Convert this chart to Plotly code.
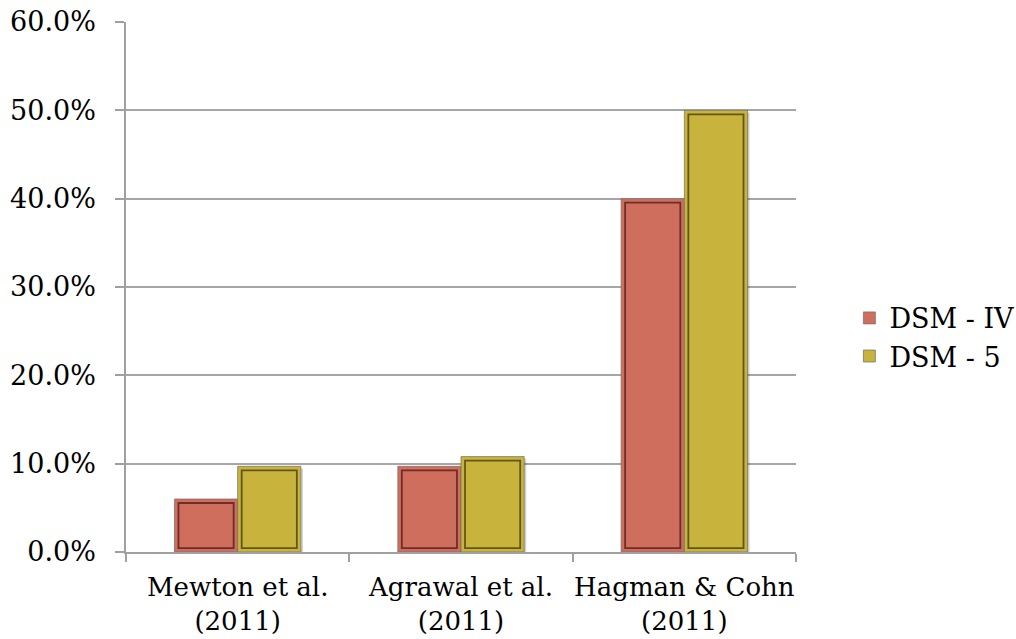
import plotly.graph_objects as go

# Study labels and prevalence values (%)
studies = ["Mewton et al.<br>(2011)", "Agrawal et al.<br>(2011)", "Hagman & Cohn<br>(2011)"]
dsm_iv = [6.0, 9.7, 40.0]
dsm_5 = [9.7, 10.8, 50.0]
series_names = ["DSM - IV", "DSM - 5"]
y_ticks = [0, 10, 20, 30, 40, 50, 60]
y_tick_text = [f"{v:.1f}%" for v in y_ticks]

fill_colors = ["#D06E5D", "#C8B43C"]
inner_colors = ["rgba(90,35,28,0.85)", "rgba(80,70,20,0.85)"]

FONT = "DejaVu Serif"
bar_w = 0.283          # width of one bar in category units
dx = 0.018             # inset of the inner outline (x units)
dy = 0.45              # inset of the inner outline (y units)
sx = 0.009             # drop shadow offset (x units)
sy = 0.25              # drop shadow offset (y units)

xs = list(range(len(studies)))
fig = go.Figure()

for k, (name, vals) in enumerate(zip(series_names, [dsm_iv, dsm_5])):
    off = -bar_w if k == 0 else 0.0
    # soft drop shadow
    fig.add_trace(go.Bar(
        x=xs, y=[v - sy for v in vals], base=0, width=bar_w, offset=off + sx,
        marker=dict(color="rgba(0,0,0,0.18)", line=dict(width=0)),
        showlegend=False, hoverinfo="skip"))
    # main bar
    fig.add_trace(go.Bar(
        x=xs, y=vals, width=bar_w, offset=off, name=name,
        marker=dict(color=fill_colors[k], line=dict(color="rgba(110,110,110,0.7)", width=1))))
    # inner outline
    fig.add_trace(go.Bar(
        x=xs, y=[v - 2 * dy for v in vals], base=dy, width=bar_w - 2 * dx, offset=off + dx,
        marker=dict(color="rgba(0,0,0,0)", line=dict(color=inner_colors[k], width=1.8)),
        showlegend=False, hoverinfo="skip"))

fig.update_layout(
    barmode="overlay",
    width=1016, height=639,
    margin=dict(l=126, r=220, t=22, b=87),
    paper_bgcolor="white", plot_bgcolor="white",
    font=dict(family=FONT, size=26, color="black"),
    legend=dict(xref="container", x=0.836, y=0.405, xanchor="left", yanchor="middle",
                font=dict(family=FONT, size=27), bgcolor="rgba(0,0,0,0)"),
    xaxis=dict(
        range=[-0.5, 2.5], tickvals=xs, ticktext=studies, ticks="",
        showgrid=False, showline=True, linecolor="#A0A0A0", linewidth=1.5,
        zeroline=False, automargin=False,
        minor=dict(tick0=0.5, dtick=1, ticks="outside", ticklen=8,
                   tickcolor="#A0A0A0", tickwidth=1.5, showgrid=False),
        ticklabelstandoff=11,
        tickfont=dict(family=FONT, size=26),
    ),
    yaxis=dict(
        range=[0, 60], tickvals=y_ticks, ticktext=y_tick_text,
        ticks="outside", ticklen=9, tickcolor="#A0A0A0", tickwidth=1.5,
        showgrid=True, gridcolor="#A6A6A6", gridwidth=1.5,
        showline=True, linecolor="#A0A0A0", linewidth=1.5, zeroline=False,
        automargin=False, ticklabelstandoff=14,
        tickfont=dict(family=FONT, size=27),
    ),
)

fig.write_html("out.html")
